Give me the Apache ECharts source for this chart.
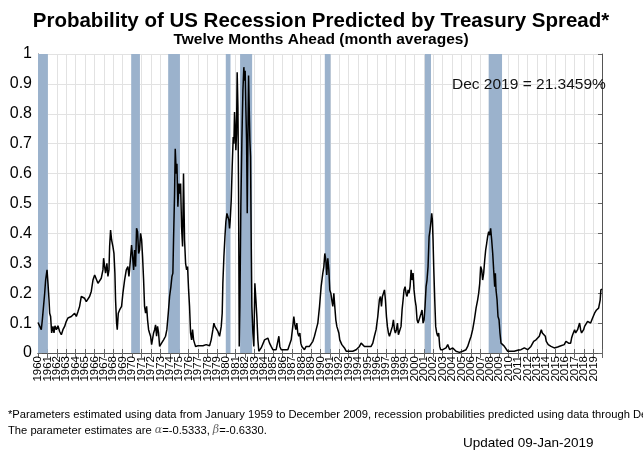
<!DOCTYPE html>
<html>
<head>
<meta charset="utf-8">
<script src="https://cdn.jsdelivr.net/npm/echarts@6/dist/echarts.min.js"></script>
<style>
html,body{margin:0;padding:0;background:#fff;}
#chart{width:643px;height:461px;}
</style>
</head>
<body>
<div id="chart"></div>
<script>
// Sample dates (decimal years)
const sampleYears = [
1960.00,1960.18,1960.35,1960.46,1960.53,1960.71,1960.81,1960.96,1961.06,1961.17,1961.24,1961.34,1961.45,1961.59,1961.70,1961.80,1961.95,
1962.12,1962.30,1962.48,1962.65,1962.83,1963.01,1963.18,1963.36,1963.54,1963.72,1963.89,1964.07,1964.25,1964.42,1964.60,1964.78,1964.95,
1965.13,1965.31,1965.48,1965.66,1965.84,1966.02,1966.19,1966.37,1966.55,1966.72,1966.90,1966.97,1967.08,1967.18,1967.32,1967.43,1967.54,
1967.61,1967.71,1967.82,1967.96,1968.07,1968.17,1968.24,1968.35,1968.42,1968.53,1968.67,1968.78,1968.88,1969.02,1969.20,1969.38,1969.55,
1969.66,1969.73,1969.84,1969.94,1970.05,1970.16,1970.26,1970.37,1970.47,1970.58,1970.69,1970.79,1970.90,1971.01,1971.11,1971.22,1971.32,
1971.43,1971.54,1971.64,1971.75,1971.85,1971.96,1972.07,1972.17,1972.28,1972.39,1972.49,1972.60,1972.70,1972.81,1972.92,1973.02,1973.13,
1973.23,1973.34,1973.45,1973.55,1973.69,1973.84,1973.98,1974.12,1974.23,1974.33,1974.40,1974.51,1974.58,1974.69,1974.76,1974.86,1974.97,
1975.07,1975.15,1975.25,1975.36,1975.46,1975.57,1975.68,1975.79,1975.89,1976.00,1976.10,1976.21,1976.32,1976.42,1976.53,1976.63,1976.74,
1976.84,1976.99,1977.17,1977.52,1977.87,1978.23,1978.40,1978.58,1978.69,1978.79,1978.94,1979.11,1979.29,1979.47,1979.57,1979.64,1979.75,
1979.86,1979.96,1980.07,1980.17,1980.28,1980.35,1980.42,1980.53,1980.63,1980.74,1980.81,1980.88,1980.95,1981.02,1981.09,1981.16,1981.24,
1981.31,1981.38,1981.45,1981.55,1981.66,1981.77,1981.87,1981.94,1982.01,1982.08,1982.16,1982.23,1982.30,1982.37,1982.44,1982.51,1982.58,
1982.65,1982.72,1982.83,1982.93,1983.04,1983.15,1983.25,1983.36,1983.46,1983.57,1983.71,1983.89,1984.07,1984.24,1984.42,1984.60,1984.77,
1984.95,1985.13,1985.30,1985.48,1985.59,1985.69,1985.84,1986.01,1986.19,1986.37,1986.54,1986.72,1986.90,1987.07,1987.18,1987.29,1987.39,
1987.50,1987.60,1987.71,1987.82,1987.92,1988.03,1988.14,1988.31,1988.49,1988.67,1988.84,1989.02,1989.20,1989.37,1989.55,1989.73,1989.91,
1990.08,1990.26,1990.37,1990.47,1990.58,1990.68,1990.79,1990.90,1991.00,1991.11,1991.21,1991.32,1991.43,1991.53,1991.64,1991.75,1991.85,
1991.96,1992.06,1992.17,1992.28,1992.38,1992.56,1992.74,1992.91,1993.09,1993.27,1993.44,1993.62,1993.80,1993.97,1994.15,1994.33,1994.51,
1994.68,1994.86,1995.04,1995.21,1995.39,1995.57,1995.74,1995.92,1996.10,1996.27,1996.38,1996.49,1996.59,1996.70,1996.81,1996.91,1997.02,
1997.12,1997.23,1997.34,1997.44,1997.55,1997.65,1997.76,1997.87,1997.97,1998.08,1998.19,1998.29,1998.40,1998.57,1998.68,1998.79,1998.89,
1999.00,1999.10,1999.21,1999.32,1999.42,1999.53,1999.64,1999.74,1999.85,1999.95,2000.06,2000.17,2000.27,2000.38,2000.48,2000.59,2000.70,
2000.80,2000.91,2001.02,2001.12,2001.23,2001.33,2001.44,2001.55,2001.65,2001.76,2001.83,2001.90,2001.97,2002.04,2002.15,2002.25,2002.36,
2002.47,2002.57,2002.68,2002.78,2002.89,2003.00,2003.17,2003.35,2003.53,2003.63,2003.74,2003.88,2004.06,2004.24,2004.41,2004.59,2004.77,
2004.94,2005.12,2005.30,2005.47,2005.65,2005.83,2006.01,2006.18,2006.36,2006.54,2006.71,2006.82,2006.93,2007.03,2007.14,2007.24,2007.35,
2007.46,2007.56,2007.67,2007.77,2007.88,2007.99,2008.09,2008.20,2008.31,2008.41,2008.52,2008.59,2008.66,2008.77,2008.87,2008.98,2009.08,
2009.19,2009.30,2009.40,2009.51,2009.62,2009.72,2009.90,2010.07,2010.25,2010.43,2010.60,2010.78,2010.96,2011.14,2011.31,2011.49,2011.67,
2011.84,2012.02,2012.20,2012.37,2012.55,2012.66,2012.76,2012.91,2013.01,2013.12,2013.26,2013.37,2013.47,2013.58,2013.68,2013.79,2013.90,
2014.00,2014.11,2014.21,2014.32,2014.50,2014.67,2014.85,2015.03,2015.21,2015.38,2015.56,2015.74,2015.91,2016.09,2016.27,2016.37,2016.48,
2016.59,2016.69,2016.80,2016.90,2017.01,2017.12,2017.22,2017.33,2017.43,2017.54,2017.65,2017.75,2017.86,2017.97,2018.07,2018.18,2018.28,
2018.39,2018.50,2018.60,2018.71,2018.81,2018.92,2019.03,2019.13,2019.24,2019.34,2019.45,2019.56,2019.66,2019.73,2019.80,2019.92
];
// Recession probability (fraction) at each sample date
const probability = [
0.102,0.106,0.078,0.111,0.111,0.200,0.244,0.278,0.233,0.178,0.133,0.122,0.067,0.089,0.067,0.091,0.078,
0.091,0.072,0.061,0.078,0.089,0.106,0.117,0.111,0.122,0.117,0.133,0.122,0.139,0.156,0.189,0.194,0.183,
0.172,0.178,0.189,0.206,0.244,0.261,0.256,0.233,0.239,0.250,0.278,0.317,0.289,0.267,0.300,0.256,0.278,
0.356,0.411,0.378,0.356,0.333,0.267,0.178,0.100,0.078,0.133,0.144,0.139,0.156,0.200,0.244,0.278,0.289,
0.256,0.278,0.278,0.361,0.322,0.278,0.344,0.289,0.417,0.406,0.333,0.344,0.400,0.378,0.322,0.244,0.156,
0.133,0.156,0.111,0.078,0.067,0.056,0.028,0.033,0.067,0.078,0.094,0.056,0.089,0.067,0.022,0.028,0.033,
0.028,0.044,0.039,0.056,0.078,0.133,0.189,0.222,0.256,0.267,0.378,0.533,0.683,0.600,0.633,0.489,0.567,
0.533,0.567,0.422,0.356,0.600,0.378,0.300,0.278,0.289,0.211,0.156,0.067,0.044,0.078,0.044,0.033,0.022,
0.028,0.024,0.024,0.024,0.028,0.024,0.044,0.078,0.100,0.089,0.083,0.072,0.056,0.089,0.133,0.233,0.322,
0.389,0.439,0.467,0.472,0.444,0.417,0.444,0.511,0.622,0.722,0.700,0.806,0.756,0.678,0.733,0.939,0.822,
0.533,0.022,0.156,0.489,0.711,0.878,0.956,0.911,0.944,0.822,0.711,0.467,0.711,0.928,0.822,0.711,0.656,
0.378,0.156,0.067,0.022,0.233,0.178,0.122,0.044,0.006,0.006,0.017,0.022,0.044,0.039,0.050,0.033,0.022,
0.011,0.006,0.011,0.011,0.056,0.022,0.011,0.006,0.011,0.017,0.011,0.017,0.044,0.089,0.122,0.094,0.078,
0.100,0.067,0.056,0.067,0.033,0.022,0.017,0.011,0.022,0.017,0.022,0.028,0.039,0.056,0.078,0.100,0.156,
0.222,0.267,0.289,0.333,0.311,0.261,0.317,0.278,0.211,0.200,0.178,0.156,0.200,0.156,0.111,0.089,0.094,
0.067,0.044,0.039,0.028,0.022,0.017,0.006,0.002,0.006,0.002,0.006,0.006,0.011,0.017,0.022,0.033,0.028,
0.022,0.028,0.022,0.017,0.022,0.033,0.056,0.078,0.122,0.178,0.189,0.156,0.189,0.200,0.211,0.178,0.122,
0.089,0.067,0.056,0.067,0.067,0.089,0.111,0.078,0.067,0.078,0.100,0.061,0.067,0.089,0.144,0.178,0.211,
0.222,0.200,0.189,0.211,0.200,0.222,0.278,0.244,0.267,0.211,0.178,0.156,0.111,0.100,0.106,0.100,0.133,
0.144,0.100,0.111,0.156,0.222,0.244,0.289,0.389,0.411,0.444,0.467,0.444,0.378,0.289,0.178,0.089,0.067,
0.056,0.067,0.022,0.011,0.006,0.011,0.006,0.017,0.028,0.024,0.011,0.017,0.017,0.011,0.006,0.006,0.002,
0.002,0.006,0.006,0.011,0.022,0.039,0.056,0.078,0.111,0.150,0.178,0.200,0.233,0.289,0.278,0.244,0.267,
0.311,0.344,0.367,0.389,0.406,0.394,0.417,0.378,0.333,0.278,0.222,0.267,0.211,0.178,0.122,0.111,0.067,
0.033,0.028,0.028,0.024,0.022,0.020,0.006,0.002,0.006,0.002,0.006,0.002,0.009,0.006,0.011,0.006,0.017,
0.011,0.011,0.017,0.022,0.028,0.039,0.033,0.044,0.039,0.039,0.056,0.061,0.078,0.067,0.061,0.067,0.056,
0.039,0.033,0.028,0.024,0.022,0.020,0.017,0.017,0.020,0.022,0.024,0.022,0.028,0.039,0.044,0.033,0.039,
0.033,0.050,0.061,0.067,0.078,0.067,0.072,0.078,0.089,0.100,0.078,0.067,0.067,0.078,0.089,0.094,0.089,
0.106,0.100,0.111,0.100,0.106,0.117,0.111,0.133,0.139,0.144,0.139,0.150,0.156,0.178,0.211,0.213459
];
// Recession bands (start/end, decimal years)
const recessionStart = [1960.0, 1969.9, 1973.83, 1979.95, 1981.47, 1990.47, 2001.1, 2007.88];
const recessionEnd   = [1961.05, 1970.83, 1975.08, 1980.45, 1982.75, 1991.08, 2001.75, 2009.3];
// Axis settings
const xMin = 1960, xMax = 2019.92;
const yTicks = [0, 0.1, 0.2, 0.3, 0.4, 0.5, 0.6, 0.7, 0.8, 0.9, 1];

const lineData = sampleYears.map((y, i) => [y, probability[i]]);
const bands = recessionStart.map((s, i) => [{xAxis: s}, {xAxis: recessionEnd[i]}]);

const chart = echarts.init(document.getElementById('chart'), null, {renderer: 'canvas'});
const frameColor = '#555';
const tickColor = '#666';
const gridColor = '#e2e2e2';
const isInt = v => Math.abs(v - Math.round(v)) < 1e-6;
const yearLabel = parity => v => (isInt(v) && Math.round(v) % 2 === parity) ? String(Math.round(v)) : '';
const xLabelStyle = {
  show: true, rotate: 90, margin: 3, fontSize: 11.5, color: '#000',
  hideOverlap: false, fontFamily: 'Liberation Sans, Arial, sans-serif'
};

chart.setOption({
  animation: false,
  backgroundColor: '#fff',
  grid: {left: 38, right: 41, top: 54, bottom: 108, containLabel: false},
  xAxis: [
    {
      type: 'value', min: xMin, max: xMax, interval: 1, position: 'bottom',
      axisLine: {show: true, lineStyle: {color: frameColor, width: 1}},
      axisTick: {show: true, inside: true, length: 4, lineStyle: {color: tickColor}},
      axisLabel: Object.assign({}, xLabelStyle, {showMinLabel: true, formatter: yearLabel(0)}),
      splitLine: {show: true, lineStyle: {color: gridColor, width: 1}}
    },
    {
      type: 'value', min: xMin, max: xMax, interval: 1, position: 'top',
      axisLine: {show: true, lineStyle: {color: frameColor, width: 1}},
      axisTick: {show: true, inside: true, length: 5, lineStyle: {color: tickColor}},
      axisLabel: {show: false},
      splitLine: {show: false}
    },
    {
      type: 'value', min: xMin, max: xMax, interval: 1, position: 'bottom',
      axisLine: {show: false},
      axisTick: {show: false},
      axisLabel: Object.assign({}, xLabelStyle, {formatter: yearLabel(1)}),
      splitLine: {show: false}
    }
  ],
  yAxis: [
    {
      type: 'value', min: 0, max: 1, interval: 0.1, position: 'left',
      axisLine: {show: true, lineStyle: {color: frameColor, width: 1}},
      axisTick: {show: true, inside: true, length: 4, lineStyle: {color: tickColor}},
      axisLabel: {
        show: true, margin: 6, fontSize: 16, color: '#000',
        fontFamily: 'Liberation Sans, Arial, sans-serif',
        formatter: v => {
          const t = yTicks.find(k => Math.abs(k - v) < 1e-6);
          return t === undefined ? '' : String(t);
        }
      },
      splitLine: {show: true, lineStyle: {color: gridColor, width: 1}}
    },
    {
      type: 'value', min: 0, max: 1, interval: 0.1, position: 'right',
      axisLine: {show: true, lineStyle: {color: frameColor, width: 1}},
      axisTick: {show: true, inside: true, length: 4, lineStyle: {color: tickColor}},
      axisLabel: {show: false},
      splitLine: {show: false}
    }
  ],
  series: [{
    type: 'line',
    xAxisIndex: 0, yAxisIndex: 0,
    data: lineData,
    showSymbol: false, symbol: 'none',
    lineStyle: {color: '#000', width: 1.5},
    z: 5,
    markArea: {
      silent: true,
      itemStyle: {color: '#9bb2cc', opacity: 1},
      data: bands
    }
  }],
  graphic: [
    {type: 'text', x: 321, y: 21, z: 100,
     style: {text: 'Probability of US Recession Predicted by Treasury Spread*', font: 'bold 20.5px "Liberation Sans", Arial, sans-serif', fill: '#000', textAlign: 'center', textVerticalAlign: 'middle'}},
    {type: 'text', x: 321, y: 40, z: 100,
     style: {text: 'Twelve Months Ahead (month averages)', font: 'bold 15.5px "Liberation Sans", Arial, sans-serif', fill: '#000', textAlign: 'center', textVerticalAlign: 'middle'}},
    {type: 'text', x: 452, y: 85, z: 100,
     style: {text: 'Dec 2019 = 21.3459%', font: '15.5px "Liberation Sans", Arial, sans-serif', fill: '#111', textAlign: 'left', textVerticalAlign: 'middle'}},
    {type: 'text', x: 8, y: 415, z: 100,
     style: {text: '*Parameters estimated using data from January 1959 to December 2009, recession probabilities predicted using data through Dec 2018.', font: '11.2px "Liberation Sans", Arial, sans-serif', fill: '#000', textVerticalAlign: 'middle'}},
    {type: 'text', x: 8, y: 430.5, z: 100,
     style: {
       text: 'The parameter estimates are {g|α}=-0.5333, {g|β}=-0.6330.',
       font: '11.2px "Liberation Sans", Arial, sans-serif', fill: '#000', textVerticalAlign: 'middle',
       rich: {g: {fontFamily: 'DejaVu Serif, serif', fontStyle: 'italic', fontSize: 11, fill: '#666', color: '#666'}}
     }},
    {type: 'text', x: 463, y: 443, z: 100,
     style: {text: 'Updated 09-Jan-2019', font: '13.5px "Liberation Sans", Arial, sans-serif', fill: '#000', textVerticalAlign: 'middle'}}
  ]
});
</script>
</body>
</html>
